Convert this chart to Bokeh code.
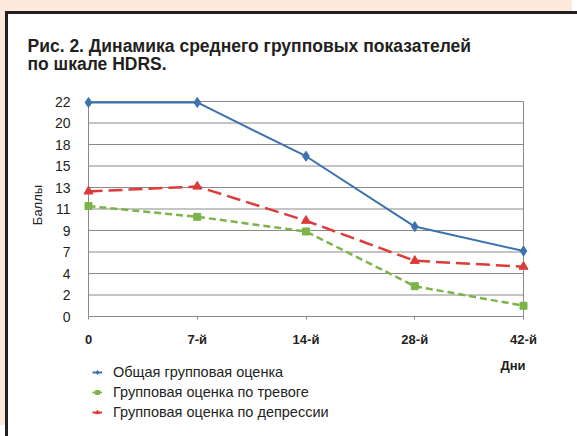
from bokeh.plotting import figure
from bokeh.layouts import column
from bokeh.models import Range1d, FixedTicker, Legend, LegendItem, Title, Label
from bokeh.embed import file_html
from bokeh.resources import INLINE

# ---- data ----
days = ["0", "7-й", "14-й", "28-й", "42-й"]
x_pos = [0, 1, 2, 3, 4]
total = [21.9, 21.9, 16.4, 9.2, 6.7]
anxiety = [11.3, 10.2, 8.7, 3.1, 1.1]
depression = [12.8, 13.3, 9.8, 5.7, 5.1]
ytick_values = [0, 2.2, 4.4, 6.6, 8.8, 11, 13.2, 15.4, 17.6, 19.8, 22]
ytick_labels = ["0", "2", "4", "7", "9", "11", "13", "15", "18", "20", "22"]
series_names = ["Общая групповая оценка", "Групповая оценка по тревоге",
                "Групповая оценка по депрессии"]
title_text = "Рис. 2. Динамика среднего групповых показателей\nпо шкале HDRS."
y_label = "Баллы"
x_label = "Дни"

FONT = "Liberation Sans"
TXT = "#231f20"
BLUE = "#3d72b0"
GREEN = "#7cb34a"
RED = "#dc3b37"
GRID = "#8a8a8a"

W = 569
H1, H2 = 341, 81
XPPU = 108.75
YPPU = 9.7727
PADX = 8 / XPPU
PADY = 8 / YPPU

xr = Range1d(-PADX, 4 + PADX)

# ---------------- chart ----------------
p = figure(width=W, height=H1, output_backend="svg", toolbar_location=None,
           x_range=xr, y_range=Range1d(0, 22 + PADY),
           min_border_left=72, min_border_right=46, min_border_top=79,
           min_border_bottom=39)
p.background_fill_color = "white"
p.border_fill_color = "white"
p.outline_line_color = None
p.grid.visible = False

p.title = Title(text=title_text, align="left", offset=-53, standoff=36,
                vertical_align="top",
                text_font=FONT, text_font_size="17.5px", text_font_style="bold",
                text_color=TXT, text_line_height=0.92)

# grid lines
p.segment(x0=[0] * len(ytick_values), x1=[4] * len(ytick_values),
          y0=ytick_values, y1=ytick_values, line_color=GRID, line_width=1)
p.segment(x0=[4, 0], x1=[4, 0], y0=[0, 0], y1=[22, 22], line_color=GRID, line_width=1)

xa = p.xaxis[0]
xa.ticker = FixedTicker(ticks=x_pos)
xa.major_label_overrides = {x: d for x, d in zip(x_pos, days)}
xa.bounds = (0, 4)
xa.axis_line_color = GRID
xa.major_tick_line_color = GRID
xa.major_tick_out = 3
xa.major_tick_in = 0
xa.minor_tick_line_color = None
xa.major_label_standoff = 12
xa.major_label_text_font = FONT
xa.major_label_text_font_size = "13px"
xa.major_label_text_font_style = "bold"
xa.major_label_text_color = TXT

ya = p.yaxis[0]
ya.ticker = FixedTicker(ticks=ytick_values)
ya.major_label_overrides = {v: l for v, l in zip(ytick_values, ytick_labels)}
ya.axis_line_color = None
ya.major_tick_line_color = None
ya.major_tick_out = 0
ya.major_tick_in = 0
ya.minor_tick_line_color = None
ya.major_label_standoff = 10
ya.major_label_text_font = FONT
ya.major_label_text_font_size = "14px"
ya.major_label_text_color = TXT
ya.axis_label = y_label
ya.axis_label_standoff = 7
ya.axis_label_text_font = FONT
ya.axis_label_text_font_size = "13px"
ya.axis_label_text_font_style = "normal"
ya.axis_label_text_color = TXT

p.line(x_pos, total, line_color=BLUE, line_width=2)
p.scatter(x_pos, total, marker="diamond", size=10, fill_color=BLUE, line_color=BLUE)
p.line(x_pos, anxiety, line_color=GREEN, line_width=2.5, line_dash="7 4")
p.scatter(x_pos, anxiety, marker="square", size=7, fill_color=GREEN, line_color=GREEN)
p.line(x_pos, depression, line_color=RED, line_width=2.5, line_dash="14 6")
p.scatter(x_pos, depression, marker="triangle", size=9, fill_color=RED, line_color=RED)

# ---------------- legend strip (same x scale, data kept out of view) ----------------
q = figure(width=W, height=H2, output_backend="svg", toolbar_location=None,
           x_range=xr, y_range=Range1d(-100, -100 + H2),
           x_axis_type=None, y_axis_type=None,
           min_border_left=72, min_border_right=46, min_border_top=0, min_border_bottom=0)
q.background_fill_color = "white"
q.border_fill_color = "white"
q.outline_line_color = None
q.grid.visible = False

k1 = q.line(x_pos, total, line_color=BLUE, line_width=2)
m1 = q.scatter(x_pos, total, marker="diamond", size=8, fill_color=BLUE, line_color=BLUE)
k2 = q.line(x_pos, anxiety, line_color=GREEN, line_width=2)
m2 = q.scatter(x_pos, anxiety, marker="square", size=6, fill_color=GREEN, line_color=GREEN)
k3 = q.line(x_pos, depression, line_color=RED, line_width=2)
m3 = q.scatter(x_pos, depression, marker="triangle", size=8, fill_color=RED, line_color=RED)

legend = Legend(items=[LegendItem(label=series_names[0], renderers=[k1, m1]),
                       LegendItem(label=series_names[1], renderers=[k2, m2]),
                       LegendItem(label=series_names[2], renderers=[k3, m3])],
                location=(12, 16), orientation="vertical",
                glyph_width=10, glyph_height=16, label_height=16, spacing=4,
                padding=4, margin=0, label_standoff=11,
                label_text_font=FONT, label_text_font_size="14.5px",
                label_text_color=TXT, border_line_color=None,
                background_fill_alpha=0)
q.add_layout(legend, "center")
q.add_layout(Label(x=4 + 2 / XPPU, y=-100 + H2 - 10, text=x_label, text_align="right",
                   text_baseline="middle",
                   text_font=FONT, text_font_size="13px", text_font_style="bold",
                   text_color=TXT))

page = column(p, q, spacing=0,
              styles={"margin-left": "5px", "margin-top": "11px",
                      "border-top": "3px solid #231f20", "border-left": "3px solid #231f20",
                      "box-shadow": "-5px -11px 0 0 #fde9dc"})

open("out.html", "w").write(file_html(page, INLINE))
